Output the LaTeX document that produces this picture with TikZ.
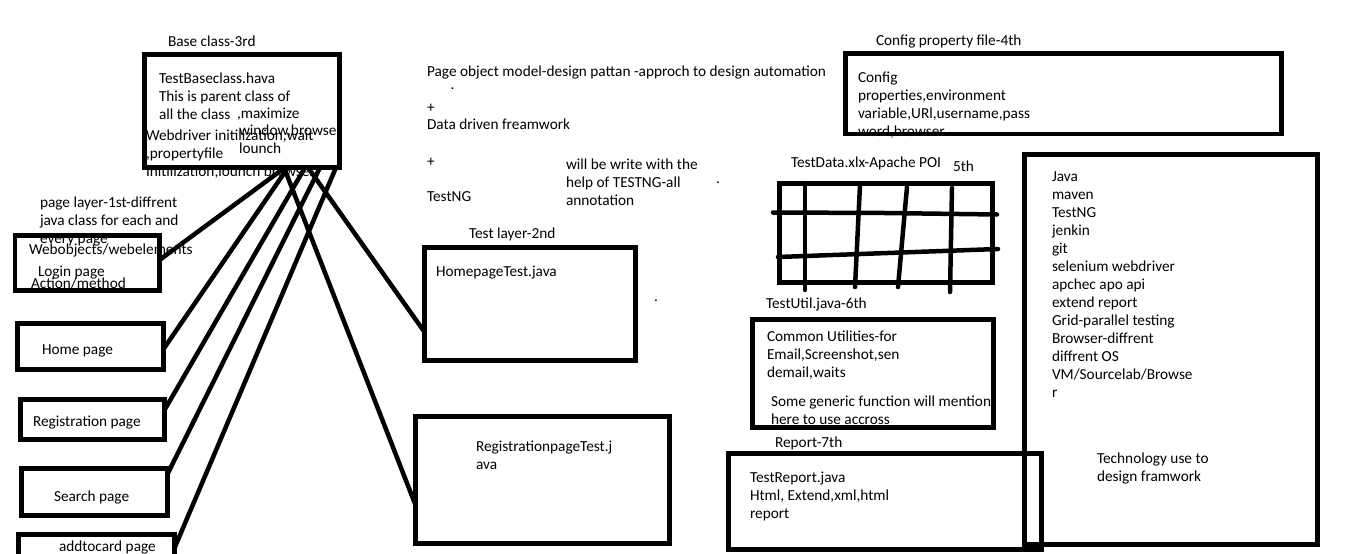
\documentclass[tikz,border=0pt]{standalone}
\usepackage{fontspec}
\setmainfont{Carlito}
\usetikzlibrary{calc}
\begin{document}
\begin{tikzpicture}[x=1pt,y=-1pt,
  txt/.style={anchor=base west, inner sep=0pt, outer sep=0pt, align=left, font=\fontsize{15.3}{18}\selectfont},
  box/.style={draw, line width=4.5pt, inner sep=0pt, outer sep=0pt, rectangle},
  link/.style={line width=4.5pt, line cap=round},
  gridline/.style={line width=4.5pt, line cap=round, line join=round}]
\useasboundingbox (0,0) rectangle (1360,554);
\clip (0,0) rectangle (1360,554);
\fill[white] (0,0) rectangle (1360,554);

% ---------- texts (multi-line nodes: anchored at the baseline of their last line) ----------
\node[txt] (lbase) at (168,46) {Base class-3rd};
\node[txt] (tbase1) at (159,119) {TestBaseclass.hava\\This is parent class of\\all the class};
\node[txt] (tbase2) at (237,118) {,maximize};
\node[txt] (tbase3) at (239,153) {window,browse\\lounch};
\node[txt] (tbase4) at (146,176) {Webdriver initilization,wait\\,propertyfile\\Initilization,lounch browser};

\node[txt] (pom) at (427,76) {Page object model-design pattan -approch to design automation};
\node[txt] (dot1) at (450.5,89.5) {.};
\node[txt] (plus1) at (427,112) {+};
\node[txt] (ddf) at (427,129) {Data driven freamwork};
\node[txt] (plus2) at (427,166) {+};
\node[txt] (tng) at (427,201) {TestNG};
\node[txt] (will) at (566,205) {will be write with the\\help of TESTNG-all\\annotation};
\node[txt] (dot2) at (716,183.5) {.};

\node[txt] (lcfg) at (876,45) {Config property file-4th};
\node[txt] (tcfg) at (858,136) {Config\\properties,environment\\variable,URl,username,pass\\word,browser};

\node[txt] (ldata) at (791,167) {TestData.xlx-Apache POI};
\node[txt] (ldata5) at (953,171) {5th};

\node[txt] (ltest) at (469,238) {Test layer-2nd};
\node[txt] (thome) at (436,276) {HomepageTest.java};
\node[txt] (dot3) at (654,301.5) {.};
\node[txt] (treg) at (476,469) {RegistrationpageTest.j\\ava};

\node[txt] (lutil) at (766,308) {TestUtil.java-6th};
\node[txt] (tutil1) at (767,377) {Common Utilities-for\\Email,Screenshot,sen\\demail,waits};
\node[txt] (tutil2) at (771,424) {Some generic function will mention\\here to use accross};

\node[txt] (lrep) at (775,447) {Report-7th};
\node[txt] (trep) at (750,518) {TestReport.java\\Html, Extend,xml,html\\report};

\node[txt] (ttech) at (1052,397) {Java\\maven\\TestNG\\jenkin\\git\\selenium webdriver\\apchec apo api\\extend report\\Grid-parallel testing\\Browser-diffrent\\diffrent OS\\VM/Sourcelab/Browse\\r};
\node[txt] (ttech2) at (1097,481) {Technology use to\\design framwork};

\node[txt] (lpage) at (40,243) {page layer-1st-diffrent\\java class for each and\\every page};
\node[txt] (tweb) at (29,254) {Webobjects/webelements};
\node[txt] (tlogin) at (38,276) {Login page};
\node[txt] (tact) at (31,288) {Action/method};
\node[txt] (thp) at (42,354) {Home page};
\node[txt] (trp) at (33,426) {Registration page};
\node[txt] (tsp) at (54,501) {Search page};
\node[txt] (tap) at (59,551) {addtocard page};

% ---------- boxes ----------
\node[box, minimum width=195pt, minimum height=113pt] (base) at (242,111) {};
\node[box, minimum width=144.5pt, minimum height=55pt] (login) at (87.25,263) {};
\node[box, minimum width=146pt, minimum height=46pt] (home) at (90.5,346.5) {};
\node[box, minimum width=144pt, minimum height=40pt] (reg) at (92.5,419.5) {};
\node[box, minimum width=146pt, minimum height=47pt] (search) at (94.5,492) {};
\node[box, minimum width=156pt, minimum height=45.5pt] (addtocard) at (96.5,557.25) {};
\node[box, minimum width=211pt, minimum height=113pt] (hometest) at (530,304) {};
\node[box, minimum width=254pt, minimum height=127pt] (regtest) at (542.5,480) {};
\node[box, minimum width=436pt, minimum height=80.5pt] (config) at (1063.5,93.75) {};
\node[box, minimum width=213pt, minimum height=99pt] (grid) at (886,233) {};
\node[box, minimum width=241pt, minimum height=108pt] (util) at (873,373.5) {};
\node[box, minimum width=313pt, minimum height=96pt] (report) at (885,501.5) {};
\node[box, minimum width=293pt, minimum height=390pt] (tech) at (1171,349.5) {};

% ---------- grid lines of the data sheet ----------
\draw[gridline] (773,212.5) -- (885,213) -- (997,214.5);
\draw[gridline] (778,257) -- (915,252) -- (998,249);
\draw[gridline] (805,183) -- (805,290);
\draw[gridline] (860,185) -- (855,287);
\draw[gridline] (907,187) -- (898,287);
\draw[gridline] (952,188) -- (950,292);

% ---------- connectors ----------
\draw[link] ($(base.south west)+(140.5,0)$) -- ($(login.east)+(0,-3)$);
\draw[link] ($(base.south west)+(143.5,0)$) -- ($(home.east)+(0,2.5)$);
\draw[link] ($(base.south west)+(160.5,0)$) -- ($(reg.east)+(0,-9.5)$);
\draw[link] ($(base.south west)+(175.5,0)$) -- ($(search.east)+(0,-18)$);
\draw[link] ($(base.south west)+(191.5,0)$) -- ($(addtocard.north east)+(0,13.5)$);
\draw[link] ($(base.south west)+(163.5,0)$) -- ($(hometest.west)+(0,28)$);
\draw[link] ($(base.south west)+(139.5,0)$) -- ($(regtest.west)+(0,25)$);
\end{tikzpicture}
\end{document}
